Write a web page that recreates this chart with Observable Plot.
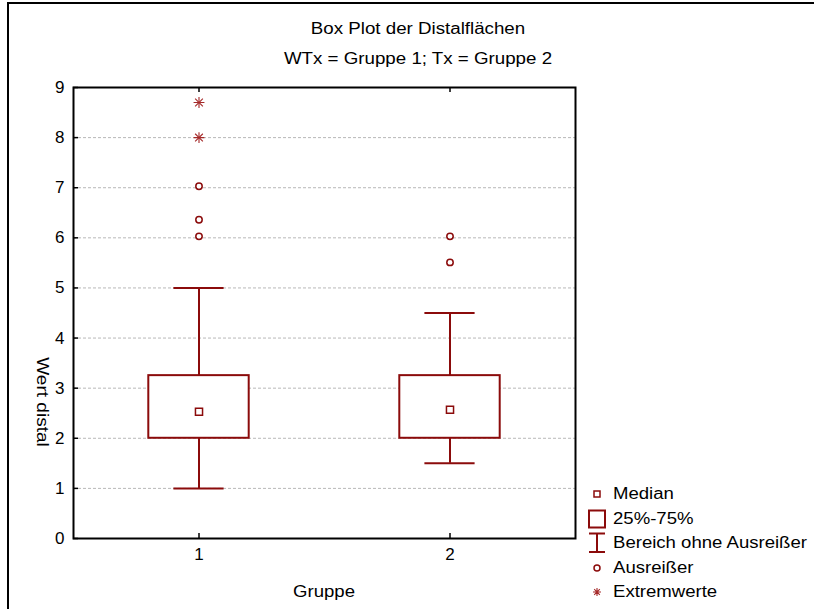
<!DOCTYPE html>
<html><head><meta charset="utf-8">
<script src="https://cdn.jsdelivr.net/npm/d3@7"></script>
<script src="https://cdn.jsdelivr.net/npm/@observablehq/plot@0.6"></script>
<style>
body{margin:0;background:#fff;font-family:"Liberation Sans",Arial,sans-serif;color:#000;}
#wrap{position:relative;width:814px;height:609px;overflow:hidden;background:#fff;}
#wrap svg{position:absolute;left:0;top:0;}
.bt{position:absolute;left:8px;top:2px;width:806px;height:2px;background:#000;}
.bl{position:absolute;left:7px;top:2px;width:2px;height:607px;background:#000;}
.title{position:absolute;left:418px;font-size:16px;white-space:nowrap;transform:translate(-50%,0) scaleX(1.17);}
.ylab{position:absolute;left:42px;top:402px;font-size:16px;white-space:nowrap;transform:translate(-50%,-50%) rotate(90deg) scaleX(1.19);}
.xlab{position:absolute;left:324px;top:592px;font-size:16px;white-space:nowrap;transform:translate(-50%,-50%) scaleX(1.16);}
#legend{position:absolute;left:584px;top:482px;font-size:16px;}
#legend .row{display:flex;align-items:center;height:24.5px;}
#legend svg{position:static;width:26px;height:24px;flex:none;}
#legend span{margin-left:3px;white-space:nowrap;display:inline-block;transform-origin:0 50%;transform:scaleX(1.16);}
</style></head><body>
<div id="wrap">
  <div class="bt"></div><div class="bl"></div>
  <div class="title" id="t1" style="top:20px;"></div>
  <div class="title" id="t2" style="top:50px;"></div>
  <div class="ylab" id="ylab"></div>
  <div class="xlab" id="xlab"></div>
  <div id="legend"></div>
</div>
<script>
// ---- data ----
const titleText = "Box Plot der Distalflächen";
const subtitleText = "WTx = Gruppe 1; Tx = Gruppe 2";
const yLabel = "Wert distal";
const xLabel = "Gruppe";
const groups = [1, 2];
const groupLabels = ["1", "2"];
const whiskerLow = [1.0, 1.5];
const quartile1 = [2.0, 2.0];
const medians = [2.53, 2.57];
const quartile3 = [3.25, 3.25];
const whiskerHigh = [5.0, 4.5];
const outlierGroup = [1, 1, 1, 2, 2];
const outlierValue = [6.03, 6.36, 7.03, 6.03, 5.51];
const extremeGroup = [1, 1];
const extremeValue = [8.0, 8.7];
const yTicks = [0, 1, 2, 3, 4, 5, 6, 7, 8, 9];
const gridValues = [1, 2, 3, 4, 5, 6, 7, 8];
const legendLabels = ["Median", "25%-75%", "Bereich ohne Ausreißer", "Ausreißer", "Extremwerte"];

// ---- styles ----
const C = "#8b0b0b";
const xDomain = [0.5, 2.5];
const yDomain = [0, 9];
const boxHalf = 0.2, capHalf = 0.1;

const boxes = groups.map((g, i) => ({g, lo: whiskerLow[i], q1: quartile1[i], med: medians[i], q3: quartile3[i], hi: whiskerHigh[i]}));
const outliers = outlierGroup.map((g, i) => ({g, v: outlierValue[i]}));
const extremes = extremeGroup.map((g, i) => ({g, v: extremeValue[i]}));

const chart = Plot.plot({
  width: 814, height: 609,
  marginLeft: 73, marginRight: 239, marginTop: 87, marginBottom: 71,
  style: {fontFamily: "Liberation Sans, Arial, sans-serif", fontSize: "16px", background: "transparent"},
  x: {domain: xDomain},
  y: {domain: yDomain},
  marks: [
    Plot.ruleY(gridValues, {y: d => d, stroke: "#b8b8b8", strokeWidth: 1, strokeDasharray: "3,2"}),
    Plot.ruleX(boxes, {x: "g", y1: "lo", y2: "hi", stroke: C, strokeWidth: 2}),
    Plot.ruleY(boxes, {y: "lo", x1: d => d.g - capHalf, x2: d => d.g + capHalf, stroke: C, strokeWidth: 2}),
    Plot.ruleY(boxes, {y: "hi", x1: d => d.g - capHalf, x2: d => d.g + capHalf, stroke: C, strokeWidth: 2}),
    Plot.rect(boxes, {x1: d => d.g - boxHalf, x2: d => d.g + boxHalf, y1: "q1", y2: "q3", fill: "white", stroke: C, strokeWidth: 2}),
    Plot.dot(boxes, {x: "g", y: "med", symbol: "square", r: 4, stroke: C, strokeWidth: 1.5, fill: "white"}),
    Plot.dot(outliers, {x: "g", y: "v", symbol: "circle", r: 3.2, stroke: C, strokeWidth: 1.5, fill: "white"}),
    Plot.dot(extremes, {x: "g", y: "v", symbol: "plus", r: 3.6, stroke: "#a52a2a", strokeWidth: 1.1}),
    Plot.dot(extremes, {x: "g", y: "v", symbol: "times", r: 3.6, stroke: "#a52a2a", strokeWidth: 1.1}),
    Plot.frame({stroke: "black", strokeWidth: 2}),
    Plot.ruleY(yTicks, {y: d => d, x1: xDomain[0], x2: xDomain[0], insetRight: -5, stroke: "black", strokeWidth: 1.5}),
    Plot.ruleX(groups, {x: d => d, y1: yDomain[0], y2: yDomain[0], insetBottom: 5, stroke: "black", strokeWidth: 1.5}),
    Plot.ruleX(groups, {x: d => d, y1: yDomain[1], y2: yDomain[1], insetTop: 5, stroke: "black", strokeWidth: 1.5}),
    Plot.axisY({ticks: yTicks, tickSize: 0, tickPadding: 9, fontSize: 17, label: null, tickFormat: d => String(d)}),
    Plot.axisX({ticks: groups, tickSize: 0, tickPadding: 9, fontSize: 17, label: null, tickFormat: d => groupLabels[groups.indexOf(d)]})
  ]
});
document.getElementById("wrap").insertBefore(chart, document.getElementById("wrap").firstChild);

document.getElementById("t1").textContent = titleText;
document.getElementById("t2").textContent = subtitleText;
document.getElementById("ylab").textContent = yLabel;
document.getElementById("xlab").textContent = xLabel;

const sym = [
  `<rect x="10" y="9" width="6" height="6" fill="none" stroke="${C}" stroke-width="1.5"/>`,
  `<rect x="5" y="3.5" width="16" height="17" fill="none" stroke="${C}" stroke-width="2"/>`,
  `<path d="M5,2.5H21M13,2.5V21M5,21H21" fill="none" stroke="${C}" stroke-width="2"/>`,
  `<circle cx="13" cy="12" r="3" fill="none" stroke="${C}" stroke-width="1.5"/>`,
  `<path d="M13,8V16M9,12H17M10.2,9.2L15.8,14.8M15.8,9.2L10.2,14.8" fill="none" stroke="#a52a2a" stroke-width="1.1"/>`
];
const leg = document.getElementById("legend");
legendLabels.forEach((lab, i) => {
  const row = document.createElement("div");
  row.className = "row";
  row.innerHTML = `<svg viewBox="0 0 26 24">${sym[i]}</svg>`;
  const s = document.createElement("span");
  s.textContent = lab;
  row.appendChild(s);
  leg.appendChild(row);
});
</script>
</body></html>
